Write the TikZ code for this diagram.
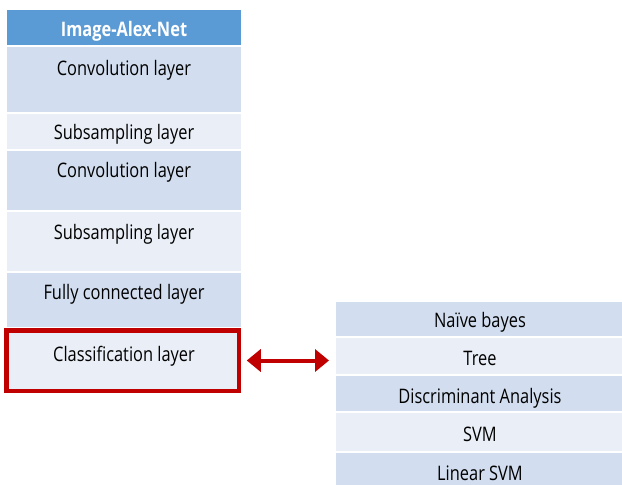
\documentclass[tikz,border=0pt]{standalone}
\usepackage{fontspec}
\setmainfont{Open Sans}[FakeStretch=0.82]
\usetikzlibrary{arrows.meta}
\definecolor{hdr}{HTML}{5B9BD5}
\definecolor{dk}{HTML}{D2DEEF}
\definecolor{lt}{HTML}{EAEFF7}
\definecolor{rd}{HTML}{C00000}
\tikzset{
  lbl/.style={anchor=base, inner sep=0pt, font=\fontsize{20}{24}\selectfont, text=black},
  hlbl/.style={anchor=base, inner sep=0pt, font=\fontsize{20}{24}\selectfont\bfseries, text=white},
  cell/.style={inner sep=0pt, outer sep=0pt, draw=none},
}
\begin{document}
\begin{tikzpicture}[x=1pt,y=-1pt]
\useasboundingbox (0,0) rectangle (622,485);
% left table
\fill[hdr] (7,10) rectangle (241,45);
\fill[dk] (7,47) rectangle (241,112);
\fill[lt] (7,114) rectangle (241,149);
\fill[dk] (7,151) rectangle (241,210);
\fill[lt] (7,212) rectangle (241,271);
\fill[dk] (7,273) rectangle (241,327);
\node[cell, fill=lt, draw=rd, line width=4.5pt, minimum width=232.5pt, minimum height=60.5pt] (cls) at (122.5,360.5) {};
\node[hlbl] (h) at (124,36) {Image-Alex-Net};
\node[lbl] (c1) at (124,75) {Convolution layer};
\node[lbl] (s1) at (124,139) {Subsampling layer};
\node[lbl] (c2) at (124,177) {Convolution layer};
\node[lbl] (s2) at (124,239) {Subsampling layer};
\node[lbl] (fc) at (124,299) {Fully connected layer};
\node[lbl] (cl) at (124,361) {Classification layer};
% right table
\fill[dk] (336,302) rectangle (622,336);
\node[cell, minimum width=286pt, minimum height=36pt] (tree) at (479,356) {};
\fill[lt] (336,338) rectangle (622,374);
\fill[dk] (336,376) rectangle (622,411);
\fill[lt] (336,413) rectangle (622,451);
\fill[dk] (336,453) rectangle (622,485);
\node[lbl] (nb) at (480,327) {Naïve bayes};
\node[lbl] (tr) at (480,365) {Tree};
\node[lbl] (da) at (480,403) {Discriminant Analysis};
\node[lbl] (svm) at (480,441) {SVM};
\node[lbl] (lsvm) at (480,480) {Linear SVM};
% arrow
\draw[rd, line width=4pt, {Triangle[length=14pt,width=22pt]}-{Triangle[length=14pt,width=22pt]}]
  ([xshift=8pt]cls.east) -- ([xshift=-7pt]cls.east -| tree.west);
\end{tikzpicture}
\end{document}
